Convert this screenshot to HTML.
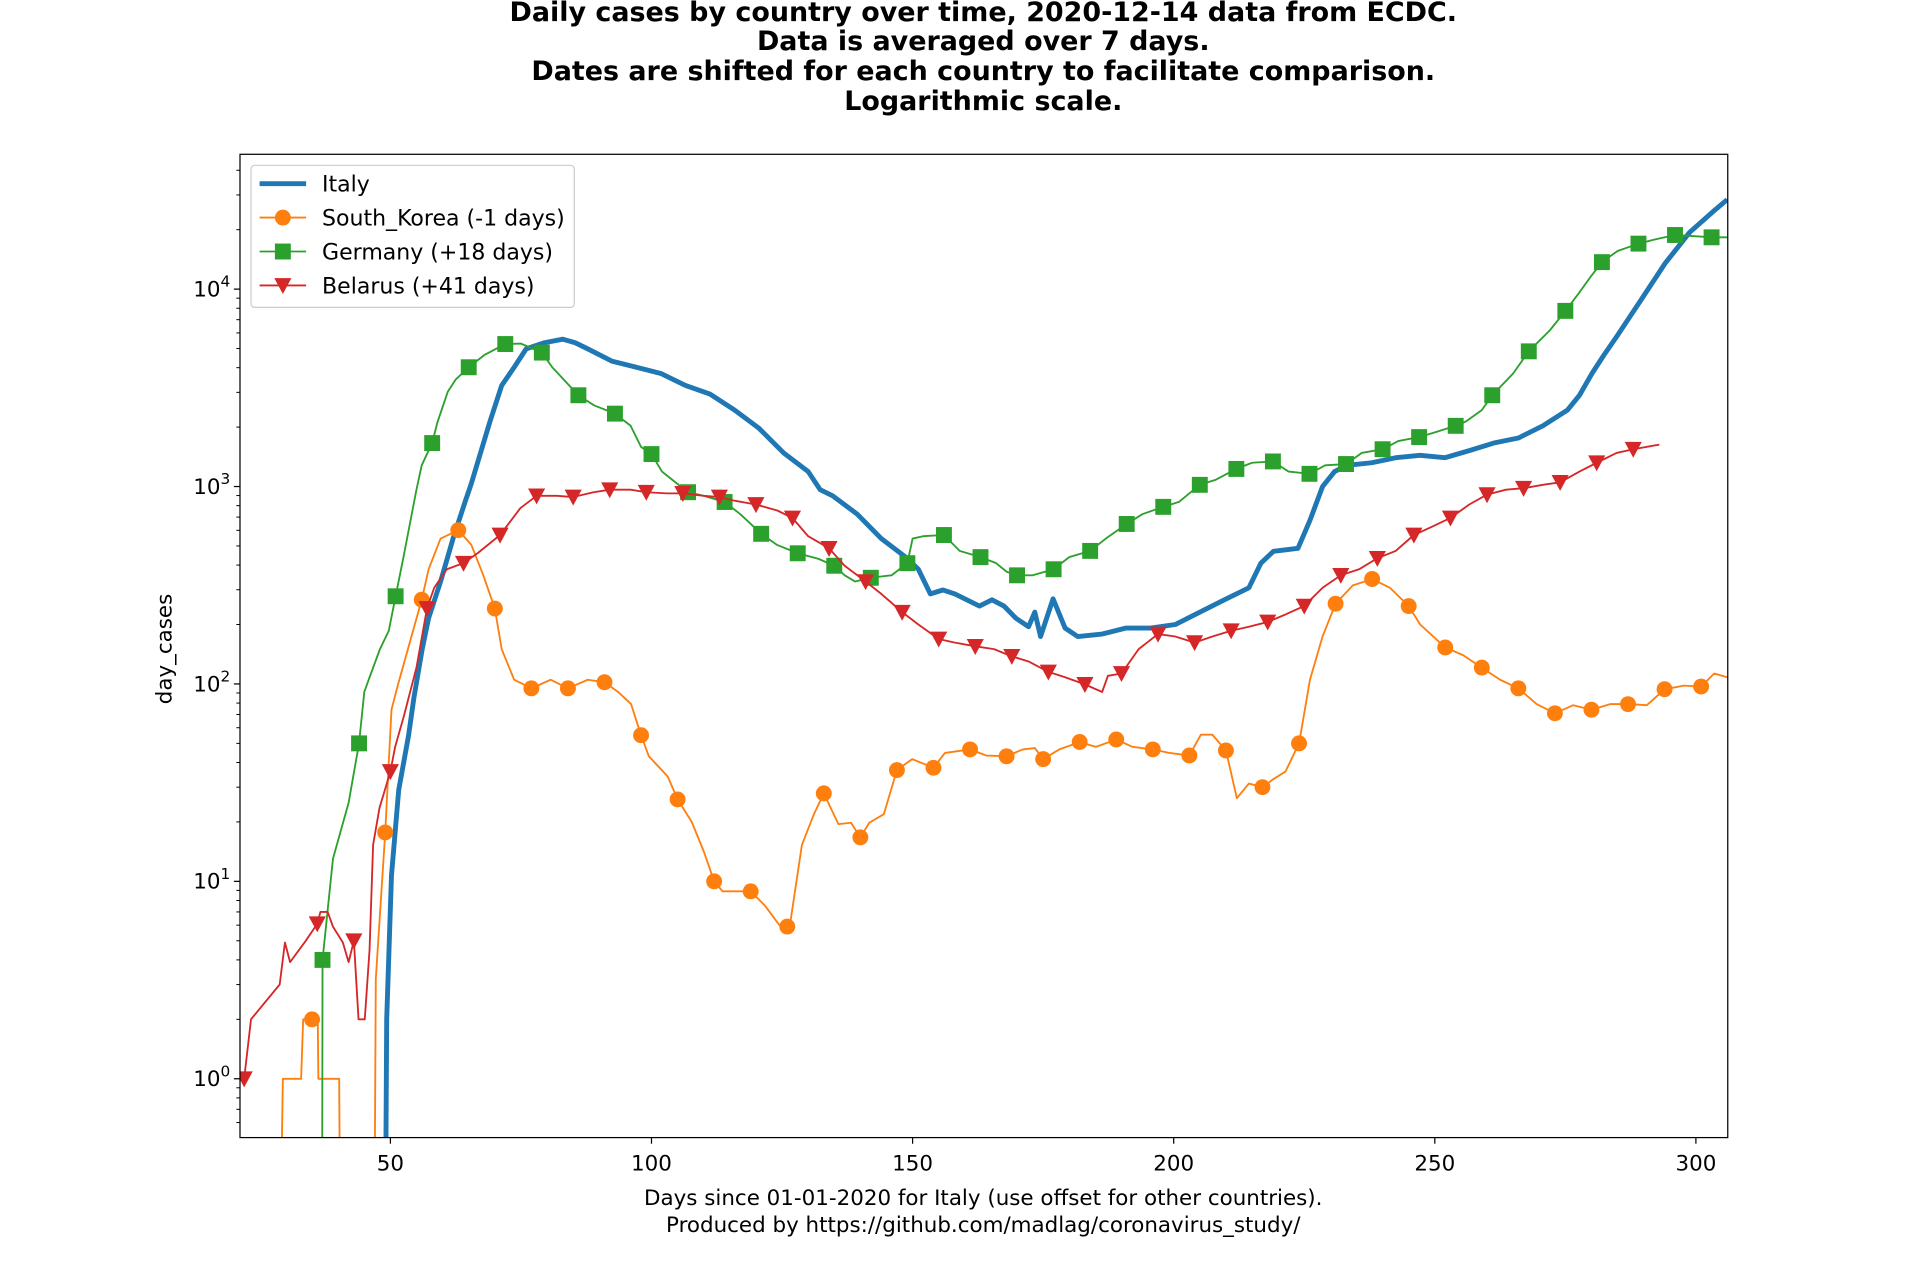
<!DOCTYPE html>
<html><head><meta charset="utf-8"><style>
html,body{margin:0;padding:0;background:#fff;}
svg{display:block;font-family:"DejaVu Sans","Liberation Sans",sans-serif;}
</style></head><body>
<svg id="chart" width="1920" height="1280" viewBox="0 0 1568 1045.3" preserveAspectRatio="none" xmlns="http://www.w3.org/2000/svg">
<defs><clipPath id="plotclip"><rect x="196" y="126" width="1215" height="803"/></clipPath></defs>
<g font-weight="bold" font-size="22" text-anchor="middle">
<text x="803" y="17">Daily cases by country over time, 2020-12-14 data from ECDC.</text>
<text x="803" y="41">Data is averaged over 7 days.</text>
<text x="803" y="65.5">Dates are shifted for each country to facilitate comparison.</text>
<text x="803" y="90">Logarithmic scale.</text>
</g>
<g id="plot" clip-path="url(#plotclip)"></g>
<g id="axes"></g>
<rect x="196" y="126" width="1215" height="803" fill="none" stroke="#000" stroke-width="1"/>
<g font-size="17.5" text-anchor="middle">
<text x="803" y="984">Days since 01-01-2020 for Italy (use offset for other countries).</text>
<text x="803" y="1006">Produced by https://github.com/madlag/coronavirus_study/</text>
</g>
<text font-size="17.5" text-anchor="middle" transform="translate(140,530) rotate(-90)">day_cases</text>
<g id="legend"></g>
</svg>
<script>
const xTicks=[50,100,150,200,250,300];
const yTickExps=[0,1,2,3,4];
const seriesNames=["Italy","South_Korea (-1 days)","Germany (+18 days)","Belarus (+41 days)"];
const italyDays=[49.1,49.3,50.2,51.6,53.5,54.5,56.1,57.3,59.6,62,64.3,65.5,69,71.3,73.7,76,79.5,83,85.4,87.8,92.4,97.1,101.8,106.5,111.2,115.9,120.6,125.3,130,132.3,134.7,139.4,144,148.7,151.1,153.4,155.8,158.1,162.8,165.2,167.5,169.8,172.2,173.4,174.5,176.9,179.2,181.6,186.3,190.9,195.6,200.3,205,209.7,214.4,216.7,219.1,223.8,226.1,228.5,230.8,233.2,237.9,242.5,247.2,251.9,256.6,261.3,266,270.7,275.4,277.7,280.1,282.4,284.8,289.5,294.1,298.8,303.5,306];
const italyVals=[0.3,2,10.7,29,55,85,150,215,330,545,835,1035,2110,3250,4020,4980,5350,5580,5350,4980,4320,4020,3740,3250,2940,2440,1970,1480,1190,964,897,724,545,439,381,286,299,286,248,267,248,215,195,231,174,270,192,174,179,192,192,200,231,267,307,409,470,486,674,1000,1190,1280,1320,1400,1440,1400,1520,1660,1760,2030,2440,2900,3740,4640,5740,8820,13500,19400,25000,28400];
const koreaDays=[29.1,29.4,32.9,33.3,35,36.1,36.2,40.2,40.3,47,47.2,49,50.2,51.4,56,57.3,59.6,63,65.5,67.8,70,71.3,73.7,77,80.7,84,87.8,91,93.6,96.1,98,99.5,103.1,105,107.7,110.1,112,113.6,115.9,119,121.8,124.5,126,126.5,128.8,131.1,133,135.8,138.2,140,141.7,144.5,147,149.9,154,156.2,161,164.1,168,171.1,173.4,175,178.1,182,185.1,189,192.1,196,199.2,203,205.2,207.4,210,212.1,214.4,217,219.1,221.4,224,226.1,228.5,231,234.3,238,241.4,245,247.2,252,255.4,259,262.5,266,269.5,273,276.5,280,283.6,287,290.6,294,297.7,301,303.5,306];
const koreaVals=[0.3,1,1,2,2,2,1,1,0.3,0.3,3.2,17.7,74,98,267,381,545,601,507,355,241,150,105,95,105,95,105,102,91,79,55,43,34,26,20,14,10,8.9,8.9,8.9,7.5,6,5.9,6,15.3,21.9,27.9,19.5,19.8,16.7,19.8,21.9,36.6,41.6,37.6,44.7,46.6,43.4,43,46.6,47.3,41.6,46.6,50.8,48,52.3,48,46.6,44.7,43.4,55.3,55.3,46,26.4,31.3,30,33,36,50,105,174,255,316,340,307,248,200,153,140,121,105,95,79,71,78,74,79,79,78,94,98,97,113,108];
const germanyDays=[36.9,37,39,42,44,45,46,48,49.7,51,52.5,55,56,58,59,61,62.5,65,68,72,75,79,81,86,89,93,96,98,100,102,104,107,110,114,117,119,121,124,128,132,135,137,139,142,146,149,150,152,156,159,163,166,168,170,173,177,180,184,187,191,194,198,201,205,208,212,215,219,222,226,229,233,236,240,243,247,250,254,256,259,261,265,268,272,275,277.5,280,282,285,289,292,296,299,303,306];
const germanyVals=[0.1,4,13,25,50,91,108,150,186,278,439,964,1280,1660,2110,3020,3480,4020,4640,5270,5300,4770,4020,2900,2580,2340,2030,1590,1460,1190,1080,936,897,835,724,646,576,507,459,430,397,355,330,345,355,409,545,560,568,472,439,409,370,355,355,381,439,472,545,646,724,789,835,1020,1080,1228,1320,1340,1190,1160,1280,1300,1480,1545,1700,1780,1880,2030,2140,2440,2900,3740,4840,6170,7760,9470,11700,13700,15600,17000,17800,18800,18600,18300,18300];
const belarusDays=[22,23.3,28.8,29.8,30.8,33.8,36,36.6,38,39,40.9,42,43,43.9,45.1,46,46.7,47.9,50,50.9,52.6,55,57,58.4,60.8,64,66.7,71,74.9,78,81.9,85,88.9,92,96,99,103,106,110,113,115.9,120,124.1,127,130,134,137,141,144,148,151.1,155,158.1,162,165.6,169,172.2,176,179.2,183,186.3,187.4,190,193.3,197,200.3,204,207.4,211,214.4,218,221.4,225,228.5,232,235.5,239,242.5,246,249.6,253,256.6,260,263.6,267,270.7,274,277.7,281,284.8,288,293];
const belarusVals=[1,2,3,4.9,3.9,5,6.1,7,7,5.9,4.9,3.9,5,2,2,4.5,15.3,23.5,36,48,69,121,241,307,381,409,459,568,778,897,897,885,936,964,964,936,923,923,897,885,847,811,756,693,560,486,397,330,286,231,200,169,162,155,150,138,130,115,108,99.5,91,110,113,150,179,174,162,174,186,195,206,225,248,307,355,381,433,472,568,628,693,811,910,964,980,1020,1050,1190,1320,1480,1545,1630];

const X0=196,X1=1411,Y0=126,Y1=929;
const DMIN=21.2,DMAX=306.1,LMIN=-0.298,LMAX=4.683;
function xs(d){return X0+(d-DMIN)/(DMAX-DMIN)*(X1-X0);}
function ys(v){return Y1-(Math.log10(v)-LMIN)/(LMAX-LMIN)*(Y1-Y0);}
const NS="http://www.w3.org/2000/svg";
function mk(tag,attrs,parent){const e=document.createElementNS(NS,tag);for(const k in attrs)e.setAttribute(k,attrs[k]);parent.appendChild(e);return e;}
const plot=document.getElementById('plot');
const axes=document.getElementById('axes');
const colors=["#1f77b4","#ff7f0e","#2ca02c","#d62728"];

function drawMarker(kind,x,y,color,parent){
  let m;
  if(kind==='circle'){m=mk('circle',{cx:x,cy:y,r:6.5,fill:color},parent);}
  else if(kind==='square'){m=mk('rect',{x:x-6.5,y:y-6.5,width:13,height:13,fill:color},parent);}
  else if(kind==='tri'){m=mk('path',{d:`M${x-7},${y-6} L${x+7},${y-6} L${x},${y+7} Z`,fill:color},parent);}
  return m;
}
function drawSeries(days,vals,color,width,name,kind,mod,res){
  const g=mk('g',{},plot);
  
  
  const pts=days.map((d,i)=>xs(d).toFixed(1)+','+ys(vals[i]).toFixed(1)).join(' ');
  const pl=mk('polyline',{points:pts,fill:'none',stroke:color,'stroke-width':width,'stroke-linejoin':'round'},g);
  
  
  if(kind){
    days.forEach((d,i)=>{
      if(Number.isInteger(d)&&d%mod===res){
        const m=drawMarker(kind,xs(d),ys(vals[i]),color,g);
        
        
      }
    });
  }
}
drawSeries(italyDays,italyVals,colors[0],4,'italy',null,7,0);
drawSeries(koreaDays,koreaVals,colors[1],1.5,'south-korea','circle',7,0);
drawSeries(germanyDays,germanyVals,colors[2],1.5,'germany','square',7,2);
drawSeries(belarusDays,belarusVals,colors[3],1.5,'belarus','tri',7,1);

xTicks.forEach(t=>{
  const x=xs(t);
  const l=mk('line',{x1:x,x2:x,y1:Y1,y2:Y1+5,stroke:'#000','stroke-width':1},axes);
  
  
  const tx=mk('text',{x:x,y:Y1+27,'font-size':17.5,'text-anchor':'middle'},axes);
  tx.textContent=t;
  
  
});
yTickExps.forEach(e=>{
  const y=ys(Math.pow(10,e));
  const l=mk('line',{x1:X0-5,x2:X0,y1:y,y2:y,stroke:'#000','stroke-width':1},axes);
  
  
  const tx=mk('text',{x:X0-8,y:y+6,'font-size':17.5,'text-anchor':'end'},axes);
  
  
  const a=mk('tspan',{},tx);a.textContent='10';
  const b=mk('tspan',{'font-size':12.5,dy:-8},tx);b.textContent=String(e);
});
for(let e=-1;e<=4;e++){for(let k=2;k<=9;k++){
  const v=k*Math.pow(10,e);const lv=Math.log10(v);
  if(lv<LMIN||lv>LMAX)continue;
  const y=ys(v);
  const l=mk('line',{x1:X0-3,x2:X0,y1:y,y2:y,stroke:'#000','stroke-width':0.8},axes);
  
  
}}
const lg=document.getElementById('legend');
mk('rect',{x:205,y:135,width:264,height:116,rx:3,fill:'#fff','fill-opacity':0.8,stroke:'#ccc','stroke-width':1},lg);
const kinds=[null,'circle','square','tri'];
seriesNames.forEach((n,i)=>{
  const y=150+i*27.7;
  const g=mk('g',{},lg);
  
  
  mk('line',{x1:212,x2:250,y1:y,y2:y,stroke:colors[i],'stroke-width':i===0?4:1.5},g);
  if(kinds[i])drawMarker(kinds[i],231,y,colors[i],g);
  const t=mk('text',{x:263,y:y+6.5,'font-size':18},g);
  t.textContent=n;
});
</script>
</body></html>
